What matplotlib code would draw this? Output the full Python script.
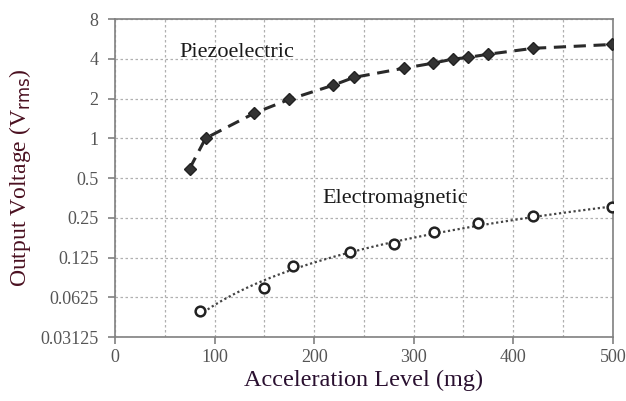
import numpy as np
import matplotlib
matplotlib.use("Agg")
import matplotlib.pyplot as plt
from matplotlib.ticker import FixedLocator, FixedFormatter, MultipleLocator

plt.rcParams['font.family'] = ['Liberation Serif', 'DejaVu Serif']

# Piezoelectric measurements
piezo_acc = [75, 91, 140, 175, 219, 240, 290, 319, 339, 355, 375, 420, 499]
piezo_v = [0.59, 1.0, 1.55, 1.97, 2.52, 2.89, 3.39, 3.7, 3.97, 4.1, 4.33, 4.8, 5.13]

# Electromagnetic measurements
em_acc = [85, 150, 179, 236, 280, 320, 365, 420, 499]
em_v = [0.049, 0.073, 0.107, 0.137, 0.157, 0.194, 0.227, 0.257, 0.30]

y_ticks = [0.03125, 0.0625, 0.125, 0.25, 0.5, 1, 2, 4, 8]
y_labels = ['0.03125', '0.0625', '0.125', '0.25', '0.5', '1', '2', '4', '8']

fig = plt.figure(figsize=(6.26, 4.01), dpi=100)
ax = fig.add_axes([0.1837, 0.1596, 0.7953, 0.793])

# piezo: dashed line through the points
ax.plot(piezo_acc, piezo_v, linestyle=(0, (4, 2.5)), color='#2a2a2a', lw=2.2, zorder=3)
ax.plot(piezo_acc, piezo_v, linestyle='none', marker='D', ms=6, color='#333333',
        mec='#222222', zorder=4)

# electromagnetic: power trend line (fit of the points) + open circles
b, a = np.polyfit(np.log(em_acc), np.log(em_v), 1)
xs = np.linspace(min(em_acc), max(em_acc), 200)
ax.plot(xs, np.exp(a) * xs ** b, linestyle=(0, (1, 1.2)), color='#444444', lw=1.6, zorder=3)
ax.plot(em_acc, em_v, linestyle='none', marker='o', ms=7, mfc='white',
        mec='#222222', mew=1.8, zorder=4)

ax.set_yscale('log', base=2)
ax.set_xlim(0, 500)
ax.set_ylim(0.03125, 8)
ax.yaxis.set_major_locator(FixedLocator(y_ticks))
ax.yaxis.set_major_formatter(FixedFormatter(y_labels))
ax.yaxis.set_minor_locator(FixedLocator([]))
ax.xaxis.set_major_locator(MultipleLocator(100))
ax.xaxis.set_minor_locator(MultipleLocator(50))

ax.grid(True, which='both', axis='x', linestyle=(0, (2, 2)), color='#b0b0b0', lw=0.9)
ax.grid(True, which='major', axis='y', linestyle=(0, (2, 2)), color='#b0b0b0', lw=0.9)

for s in ax.spines.values():
    s.set_color('#808080')
    s.set_linewidth(1.2)

ax.tick_params(axis='both', which='major', labelsize=13, colors='#808080',
               labelcolor='#555555', length=5, width=1.2, direction='out')
ax.tick_params(axis='y', which='major', pad=7)
ax.tick_params(axis='x', which='minor', length=0)

ax.set_xlabel('Acceleration Level (mg)', fontsize=17.5, color='#2a1030', labelpad=3)
ax.set_ylabel('Output Voltage (V$_{\\rm rms}$)', fontsize=17, color='#4a1020', labelpad=5)

ax.text(65, 4.48, 'Piezoelectric', fontsize=16, color='#1a1a1a', va='center', ha='left')
ax.text(208, 0.35, 'Electromagnetic', fontsize=16, color='#1a1a1a', va='center', ha='left')

fig.savefig('out.png', dpi=100)
